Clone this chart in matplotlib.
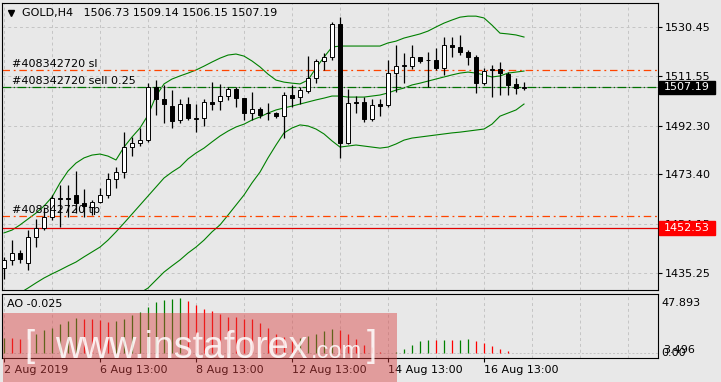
import matplotlib
matplotlib.use("Agg")
import matplotlib.pyplot as plt
import matplotlib.transforms as mtransforms
from matplotlib.patches import Rectangle
import numpy as np

# --- GOLD H4 candles ---
opens = [1437.0, 1440.2, 1443.0, 1438.9, 1449.0, 1452.5, 1456.7, 1464.0, 1464.2, 1465.4,
         1462.4, 1460.9, 1462.8, 1465.5, 1471.5, 1474.2, 1483.9, 1485.7, 1486.7, 1507.4,
         1502.5, 1500.0, 1494.5, 1500.6, 1495.0, 1495.2, 1501.4, 1501.7, 1503.8, 1506.4,
         1502.9, 1497.1, 1498.6, 1497.1, 1497.1, 1496.0, 1504.1, 1503.3, 1505.9, 1510.7,
         1517.4, 1518.8, 1531.7, 1485.7, 1501.3, 1501.6, 1495.0, 1500.7, 1500.4, 1512.6,
         1515.6, 1515.5, 1518.8, 1517.8, 1517.8, 1514.5, 1523.6, 1522.7, 1521.0, 1518.8,
         1509.0, 1514.0, 1514.2, 1512.3, 1508.3, 1506.73]
highs = [1441.5, 1448.0, 1444.1, 1451.8, 1456.0, 1460.8, 1465.4, 1469.4, 1469.4, 1474.7,
         1467.6, 1463.5, 1468.1, 1473.9, 1476.4, 1490.0, 1487.8, 1491.3, 1508.7, 1510.0,
         1508.1, 1506.1, 1502.5, 1503.3, 1500.6, 1502.5, 1509.1, 1508.5, 1507.4, 1507.4,
         1503.0, 1505.5, 1499.6, 1501.0, 1497.7, 1505.5, 1508.1, 1507.2, 1519.3, 1518.0,
         1520.4, 1532.6, 1534.6, 1506.5, 1503.8, 1503.3, 1502.5, 1502.5, 1517.8, 1523.6,
         1520.6, 1523.6, 1519.1, 1521.0, 1522.3, 1526.8, 1526.6, 1527.5, 1521.5, 1519.7,
         1514.8, 1515.8, 1516.9, 1513.2, 1510.7, 1509.14]
lows = [1433.0, 1438.3, 1439.0, 1436.3, 1445.4, 1451.8, 1455.7, 1453.0, 1457.0, 1458.3,
        1457.0, 1457.6, 1462.3, 1464.2, 1468.0, 1471.9, 1480.5, 1484.4, 1486.1, 1496.4,
        1493.5, 1491.3, 1493.5, 1494.5, 1489.7, 1492.3, 1498.4, 1498.4, 1502.3, 1499.6,
        1494.5, 1494.5, 1495.2, 1494.5, 1495.2, 1487.4, 1499.6, 1500.9, 1504.9, 1509.0,
        1513.9, 1517.8, 1479.6, 1485.2, 1497.3, 1493.9, 1494.0, 1496.0, 1499.5, 1505.5,
        1508.7, 1514.2, 1516.5, 1507.2, 1513.9, 1512.0, 1518.8, 1519.7, 1515.8, 1505.1,
        1508.1, 1503.3, 1504.2, 1504.2, 1504.6, 1506.15]
closes = [1440.0, 1442.8, 1440.5, 1449.0, 1452.5, 1456.7, 1464.1, 1464.3, 1463.8, 1462.4,
          1461.1, 1462.8, 1465.5, 1471.5, 1474.2, 1483.9, 1485.7, 1486.7, 1507.4, 1502.5,
          1500.6, 1494.2, 1500.6, 1495.2, 1495.2, 1501.4, 1500.6, 1503.8, 1506.4, 1502.9,
          1497.1, 1498.6, 1496.4, 1497.2, 1496.0, 1504.1, 1503.1, 1506.1, 1510.7, 1517.4,
          1518.8, 1531.7, 1485.7, 1501.0, 1501.1, 1494.9, 1500.2, 1499.9, 1512.6, 1515.4,
          1515.8, 1518.8, 1517.5, 1517.7, 1514.5, 1523.6, 1522.7, 1521.0, 1518.8, 1509.0,
          1513.6, 1514.2, 1512.9, 1508.1, 1506.8, 1507.19]

# --- Bollinger bands ---
bb_upper = [1450.7, 1451.8, 1453.8, 1456.1, 1458.4, 1461.1, 1464.6, 1470.1, 1474.7, 1477.8,
            1479.8, 1480.9, 1481.3, 1480.5, 1479.0, 1484.0, 1487.9, 1491.4, 1496.4, 1503.8,
            1508.5, 1510.4, 1511.6, 1512.7, 1513.9, 1515.4, 1517.0, 1518.5, 1519.7, 1520.1,
            1519.3, 1517.4, 1515.1, 1512.3, 1510.0, 1509.2, 1508.8, 1508.5, 1510.0, 1514.7,
            1518.9, 1522.8, 1523.2, 1523.2, 1523.2, 1523.2, 1523.2, 1523.2, 1524.4, 1525.1,
            1526.3, 1527.1, 1527.9, 1529.0, 1530.6, 1532.1, 1533.3, 1534.4, 1534.8, 1534.8,
            1534.1, 1531.3, 1528.2, 1527.9, 1527.5, 1526.7]
bb_middle = [1422.7, 1424.7, 1427.4, 1429.3, 1431.3, 1433.2, 1434.8, 1436.3, 1437.9, 1439.4,
             1441.4, 1443.3, 1445.2, 1447.9, 1451.1, 1454.5, 1458.0, 1461.5, 1465.0, 1468.5,
             1472.0, 1474.3, 1476.3, 1479.4, 1481.7, 1483.6, 1486.0, 1488.3, 1490.2, 1491.8,
             1492.9, 1494.5, 1495.7, 1497.2, 1498.4, 1499.2, 1499.9, 1500.7, 1501.5, 1502.3,
             1503.0, 1503.8, 1503.8, 1503.4, 1503.4, 1503.4, 1503.8, 1504.2, 1505.0, 1506.1,
             1506.9, 1508.1, 1508.8, 1509.6, 1510.4, 1511.2, 1512.0, 1512.7, 1513.1, 1512.7,
             1512.0, 1511.2, 1511.6, 1512.7, 1513.1, 1513.5]
bb_lower = [1394.8, 1397.5, 1401.0, 1402.6, 1404.1, 1405.3, 1404.9, 1402.6, 1401.0, 1401.0,
            1403.0, 1405.7, 1409.2, 1415.4, 1423.1, 1425.1, 1426.6, 1427.4, 1429.3, 1432.4,
            1435.5, 1437.9, 1440.2, 1442.9, 1445.2, 1447.9, 1451.1, 1453.8, 1457.6, 1461.5,
            1465.4, 1470.1, 1474.3, 1479.8, 1484.8, 1489.5, 1491.4, 1492.6, 1492.2, 1491.0,
            1489.1, 1486.4, 1484.0, 1484.4, 1484.8, 1484.4, 1484.0, 1483.6, 1484.0, 1485.2,
            1486.7, 1487.5, 1487.9, 1488.3, 1488.7, 1489.1, 1489.5, 1489.8, 1490.2, 1490.6,
            1491.0, 1492.9, 1496.0, 1497.2, 1498.4, 1500.7]

# --- Awesome Oscillator ---
ao_values = [13.3, 12.9, 12.6, 12.2, 17.0, 20.1, 22.0, 25.1, 27.8, 30.5,
             29.5, 29.4, 28.8, 26.9, 28.2, 29.8, 33.3, 35.6, 40.3, 44.8,
             46.5, 47.3, 47.893, 45.4, 42.1, 38.5, 36.6, 34.5, 31.6, 31.4,
             29.7, 29.4, 25.9, 21.7, 16.4, 14.0, 12.6, 12.9, 14.5, 16.5,
             19.5, 20.8, 20.5, 16.3, 12.3, 7.0, 5.1, 0.6, 0.2, 0.9,
             3.3, 7.0, 10.6, 11.2, 11.0, 11.3, 11.1, 11.3, 12.0, 10.3,
             8.8, 5.9, 3.5, 1.8, 0.4, -0.025]

price_ticks = [1530.45, 1511.55, 1492.30, 1473.40, 1454.15, 1435.25]
date_tick_idx = [0, 12, 24, 36, 48, 60]
date_labels = ["2 Aug 2019", "6 Aug 13:00", "8 Aug 13:00", "12 Aug 13:00",
               "14 Aug 13:00", "16 Aug 13:00"]

order_id = "#408342720"
sl_price = 1513.77
entry_price = 1507.25
tp_price = 1457.37
alert_price = 1452.53
ao_max_label = "47.893"
ao_min_label = "3.496"

BG = "#e8e8e8"
GRID = "#c4c4c4"
GREEN = "#008000"
FS = 8

fig = plt.figure(figsize=(7.21, 3.82), dpi=100, facecolor=BG)
ax = fig.add_axes([2 / 721, 1 - 290 / 382, 656 / 721, 287 / 382], facecolor=BG)
ax_ao = fig.add_axes([2 / 721, 1 - 358 / 382, 656 / 721, 64 / 382], facecolor=BG)

x = np.arange(len(closes))
o = np.array(opens)
c = np.array(closes)

# grid
for a in (ax, ax_ao):
    for g in range(0, 82, 6):
        a.axvline(g, color=GRID, lw=0.7, ls=(0, (3, 3)), zorder=0)
    for s in a.spines.values():
        s.set_color("black")
        s.set_linewidth(0.8)
for p in price_ticks:
    ax.axhline(p, color=GRID, lw=0.7, ls=(0, (3, 3)), zorder=0)

# bands
for band in (bb_upper, bb_middle, bb_lower):
    ax.plot(x, band, color=GREEN, lw=0.8, zorder=1)

# order / price lines
ax.axhline(sl_price, color="#ff4500", lw=0.9, ls=(0, (6, 3, 1.5, 3)), zorder=1)
ax.axhline(closes[-1], color="#a0a0a0", lw=0.7, zorder=1)
ax.axhline(entry_price, color="#007000", lw=0.9, ls=(0, (7, 2, 1, 2)), zorder=1)
ax.axhline(tp_price, color="#ff4500", lw=0.9, ls=(0, (6, 3, 1.5, 3)), zorder=1)
ax.axhline(alert_price, color="#e00000", lw=0.9, zorder=1)

# candles
ax.vlines(x, lows, highs, color="black", lw=0.9, zorder=2)
up = c >= o
body = np.maximum(np.abs(c - o), 0.15)
bottom = np.minimum(o, c)
ax.bar(x[up], body[up], bottom=bottom[up], width=0.6, color="white",
       edgecolor="black", lw=0.7, zorder=3)
ax.bar(x[~up], body[~up], bottom=bottom[~up], width=0.6, color="black",
       edgecolor="black", lw=0.7, zorder=3)

ax.set_xlim(-0.25, 81.75)
ax.set_ylim(1428.55, 1539.9)
ax.yaxis.tick_right()
ax.set_yticks(price_ticks)
ax.set_yticklabels([f"{p:.2f}" for p in price_ticks])
ax.tick_params(axis="y", length=3, width=0.8, pad=2, labelsize=FS)
ax.tick_params(axis="x", bottom=False, labelbottom=False)

blend = mtransforms.blended_transform_factory(ax.transAxes, ax.transData)

# header
ax.plot([0.0137], [0.965], marker="v", ms=5, color="black",
        transform=ax.transAxes, clip_on=False)
title = f"GOLD,H4   {opens[-1]:.2f} {highs[-1]:.2f} {lows[-1]:.2f} {closes[-1]:.2f}"
ax.text(0.0305, 0.965, title, transform=ax.transAxes, va="center", fontsize=FS)

# order labels
ax.text(0.0148, sl_price + 1.2, f"{order_id} sl", transform=blend,
        va="baseline", fontsize=FS)
ax.text(0.0148, entry_price + 1.3, f"{order_id} sell 0.25", transform=blend,
        va="baseline", fontsize=FS)
ax.text(0.0148, tp_price + 0.9, f"{order_id} tp", transform=blend,
        va="baseline", fontsize=FS)

# price boxes on the right scale
for price, col in ((closes[-1], "black"), (alert_price, "#ff0000")):
    ax.add_patch(Rectangle((1.0015, price - 2.62), 0.0854, 5.24, transform=blend,
                           facecolor=col, edgecolor=col, clip_on=False, zorder=5))
    ax.text(1.0091, price, f"{price:.2f}", transform=blend, va="center",
            color="white", fontsize=FS, clip_on=False, zorder=6)

# AO panel
ao = np.array(ao_values)
ao_cols = [GREEN] + [GREEN if ao[i] > ao[i - 1] else "#ff0000" for i in range(1, len(ao))]
ax_ao.vlines(x, 0, ao, colors=ao_cols, lw=0.9, zorder=2)
ax_ao.axhline(0, color=GRID, lw=0.7, ls=(0, (2, 2)), zorder=1)
ax_ao.set_xlim(-0.25, 81.75)
ax_ao.set_ylim(-4.38, 51.66)
ax_ao.set_yticks([])
ax_ao.set_xticks(date_tick_idx)
ax_ao.set_xticklabels(date_labels)
for lbl in ax_ao.get_xticklabels():
    lbl.set_horizontalalignment("left")
ax_ao.tick_params(axis="x", length=3, width=0.8, pad=2, labelsize=FS)
ax_ao.text(0.0076, 0.84, f"AO {ao_values[-1]:.3f}", transform=ax_ao.transAxes,
           va="center", fontsize=FS)
ax_ao.text(1.0046, 0.859, ao_max_label, transform=ax_ao.transAxes, va="center",
           fontsize=FS, clip_on=False)
ax_ao.text(1.0076, 0.125, ao_min_label, transform=ax_ao.transAxes, va="center",
           fontsize=FS, clip_on=False)
ax_ao.text(1.0046, 0.083, "0.00", transform=ax_ao.transAxes, va="center",
           fontsize=FS, clip_on=False)

# watermark
fig.add_artist(Rectangle((3 / 721, 0), 394 / 721, 69 / 382, transform=fig.transFigure,
                         facecolor=(0.85, 0.25, 0.25), alpha=0.45, lw=0, zorder=5))
wm = dict(color="white", alpha=0.85, family="Liberation Sans", zorder=6)
fig.text(29 / 721, 1 - 346 / 382, "[", fontsize=26, ha="center", va="center", **wm)
fig.text(55 / 721, 1 - 358 / 382, "www.instaforex", fontsize=27, ha="left",
         va="baseline", **wm)
fig.text(311 / 721, 1 - 358 / 382, ".com", fontsize=17, ha="left", va="baseline", **wm)
fig.text(372 / 721, 1 - 346 / 382, "]", fontsize=26, ha="center", va="center", **wm)

fig.savefig("out.png", dpi=100, facecolor=BG)
